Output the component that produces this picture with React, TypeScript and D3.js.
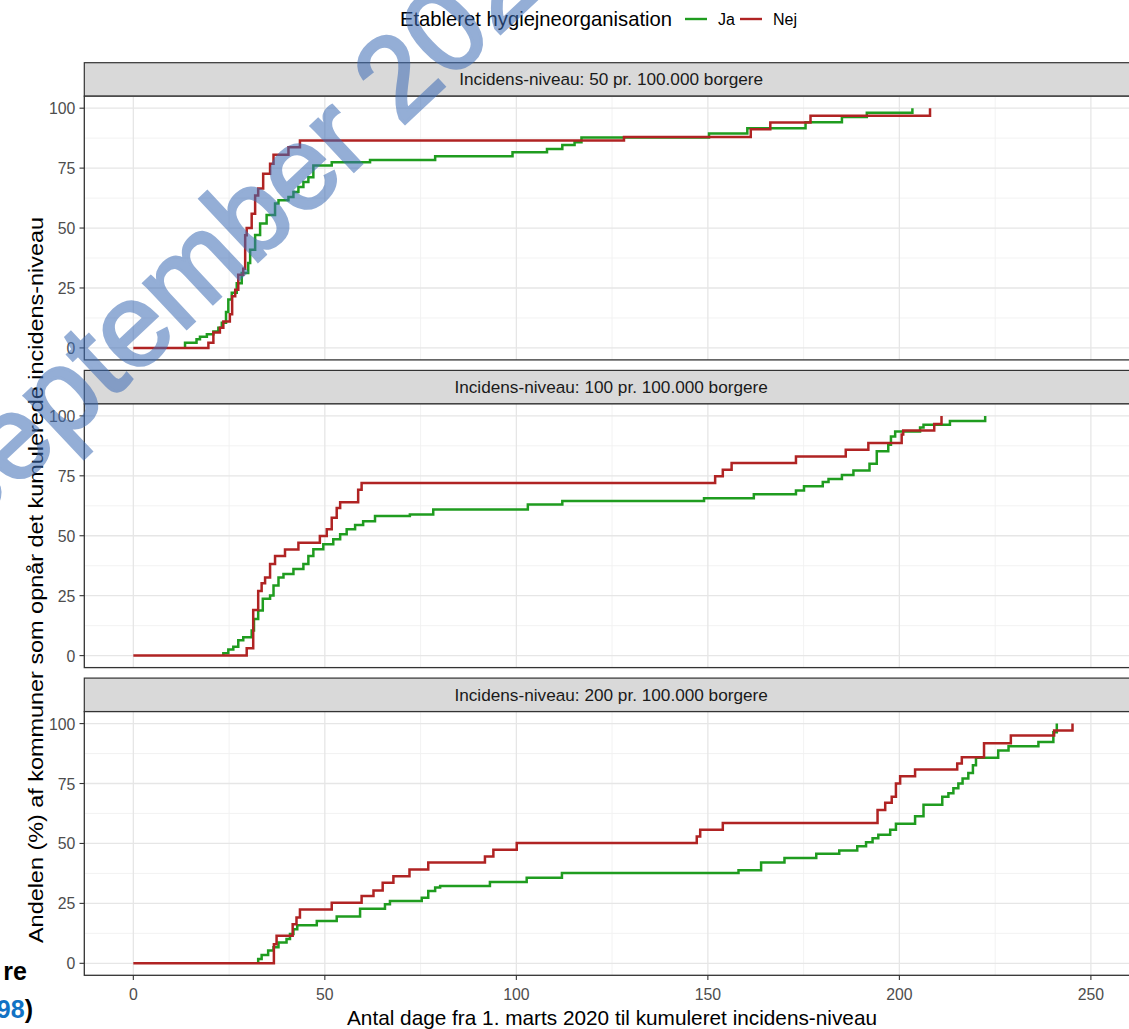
import React from 'react'
import * as d3 from 'd3'

type Pt = [number, number]

// strip labels for the three facets
const facetLabels = [
  'Incidens-niveau: 50 pr. 100.000 borgere',
  'Incidens-niveau: 100 pr. 100.000 borgere',
  'Incidens-niveau: 200 pr. 100.000 borgere',
]

const xTicks = [0, 50, 100, 150, 200, 250]
const xMinor = [25, 75, 125, 175, 225]
const yTicks = [0, 25, 50, 75, 100]
const yMinor = [12.5, 37.5, 62.5, 87.5]

const seriesNames = ['Ja', 'Nej']
const seriesColors = ['#1f9c1f', '#b02323']

// [dag, andel %] - trinkurver
const ja50: Pt[] = [
  [13.5, 0], [13.5, 2.2], [16.5, 3.6], [17.4, 4.7], [19.2, 5.7], [20.9, 6.8], [22.2, 8.4], [23.1, 10.5],
  [24.2, 15], [24.8, 20.2], [25.7, 23], [27, 27], [28.3, 31.2], [30, 35.4], [30.5, 40.9], [31.8, 47.1],
  [33.1, 51.9], [34.8, 55.4], [37, 60.2], [37.9, 61.6], [40.5, 63], [41.8, 65], [43.1, 67.1], [44.4, 69.2],
  [45.7, 71.2], [47, 76.1], [51.8, 77.5], [61.8, 78.4], [78.8, 80], [99, 81.6], [108, 83], [112, 84.6],
  [115.2, 85.8], [117, 87.8], [150.3, 89.4], [160.3, 91.6], [175.5, 94.1], [185, 96.3], [191.5, 98.1], [203.4, 100],
]
const nej50: Pt[] = [
  [0, 0], [19.6, 2.2], [20.9, 6.4], [22.6, 8.4], [23.5, 11], [25.2, 14], [25.8, 21.5], [26.6, 24.3],
  [27.4, 30.5], [28.7, 33], [29.2, 47], [29.6, 50], [30.9, 56], [31.8, 63.6], [32.6, 66.5], [33.9, 72.6],
  [35.7, 76.8], [36.6, 80.6], [40.5, 83.7], [43.5, 86.5], [128.1, 88], [161.2, 91.2], [166.3, 94],
  [176.8, 96.8], [208, 100],
]
const ja100: Pt[] = [
  [23.5, 0], [23.5, 1], [24.8, 2.6], [26.1, 3.7], [27.4, 6.4], [28.7, 7.7], [30.9, 10.5], [31.5, 15.3],
  [32.6, 18.8], [33.8, 23.7], [35.7, 25.1], [36.6, 29.2], [37.9, 32.6], [39.2, 34], [41.8, 36.1], [44.4, 38.2],
  [45.7, 41.6], [47, 44.4], [49.6, 46.5], [52.2, 48.5], [54, 50.6], [55.7, 52.7], [57.9, 54.5], [60, 56.1],
  [63.1, 58.2], [72.2, 58.9], [78.3, 61], [103, 63], [112, 64.5], [149, 65.6], [162, 67.3], [173, 68.9],
  [175.1, 70.7], [180, 72.4], [181.5, 73.7], [185, 75.3], [188, 77.2], [192.2, 80], [194.1, 85.2], [197.1, 88],
  [197.8, 91.4], [198.9, 93.5], [205.4, 95.2], [206.3, 96.3], [213.2, 97.9], [222.4, 100],
]
const nej100: Pt[] = [
  [0, 0], [29.6, 3.1], [31.3, 19], [32.6, 27], [33.5, 30.2], [34.4, 32.6], [35.7, 38.2], [37, 41.6],
  [39.6, 44.3], [43.1, 47.1], [48.7, 49.9], [50.5, 52.7], [51.8, 57.5], [53.1, 61.6], [54, 64], [58.7, 69.2],
  [59.6, 72], [151.9, 74.8], [153.9, 77.5], [156.2, 80.3], [173, 83.1], [186, 85.9], [191.9, 88.7],
  [200.6, 92.2], [201, 93.9], [209.1, 96.6], [211, 100],
]
const ja200: Pt[] = [
  [32.6, 0], [32.6, 1.8], [33.5, 3.5], [35.2, 5.3], [36.6, 6.7], [37.9, 8.7], [40, 10.1], [40.9, 12.2],
  [41.8, 14.2], [42.8, 15.9], [47.9, 17.7], [53.1, 19.5], [59.2, 22.8], [65.7, 24.6], [67, 26], [75.3, 27.4],
  [77, 30.2], [78.8, 31.6], [80.1, 32.3], [93.1, 33.9], [102.7, 35.7], [111.9, 37.7], [158, 38.8], [163.9, 42.1],
  [170, 43.9], [178.3, 45.7], [184.3, 47.1], [189, 48.8], [191.3, 50.5], [193, 52.2], [194.5, 53.6], [197.6, 55.7],
  [199.1, 58.2], [204.1, 61.3], [206.3, 66.1], [211.2, 69.5], [212.8, 70.9], [214.1, 73], [215.4, 75], [216.5, 77.1],
  [218, 79.4], [219.2, 82.6], [220, 85.8], [225.8, 88.8], [228.5, 90.5], [236.3, 92.3], [240.2, 96.4], [241.1, 100],
]
const nej200: Pt[] = [
  [0, 0], [36.7, 8], [37.4, 11.5], [41.6, 16.3], [42.6, 19.1], [43.5, 22.5], [51.8, 25.3], [59.6, 28.1],
  [62.7, 30.4], [65.1, 33.6], [67.9, 36.3], [72.1, 39.1], [77, 42.1], [91.8, 44.6], [94, 47.4], [100.1, 50.2],
  [147.1, 52.9], [148, 55.7], [153.9, 58.5], [194.3, 64], [196.3, 67], [198, 69.5], [199.1, 75], [200.2, 78],
  [204.1, 80.8], [215.1, 83.3], [216.3, 86], [222.1, 91.8], [229.1, 95], [240.4, 97.1], [245.2, 100],
]

const panelData: Pt[][][] = [
  [ja50, nej50],
  [ja100, nej100],
  [ja200, nej200],
]

const W = 1129
const H = 1029
const left = 84.3
const right = 1138
const firstStripTop = 62.7
const stripH = 33.5
const panelH = 263.7
const gap = 10.5
const font = 'Arial, "Liberation Sans", sans-serif'

export default function App() {
  const x = d3.scaleLinear().domain([-12.8, 262.3]).range([left, right])
  const line = d3.line<Pt>().x(d => x(d[0])).curve(d3.curveStepAfter)

  const panels = facetLabels.map((label, i) => {
    const stripTop = firstStripTop + i * (stripH + panelH + gap)
    const top = stripTop + stripH
    const bottom = top + panelH
    const y = d3.scaleLinear().domain([-5, 105]).range([bottom, top])
    line.y(d => y(d[1]))
    const paths = panelData[i].map(s => line(s) as string)
    return { label, stripTop, top, bottom, y, paths }
  })

  const last = panels[panels.length - 1]

  return (
    <svg width={W} height={H} style={{ position: 'absolute', left: 0, top: 0, background: '#fff' }}
      fontFamily={font}>
      <rect width={W} height={H} fill="#fff" />

      {/* legend */}
      <text x={400} y={26} fontSize={20.4} fill="#000" textLength={272} lengthAdjust="spacingAndGlyphs">
        Etableret hygiejneorganisation
      </text>
      {seriesNames.map((n, i) => (
        <g key={n} transform={`translate(${685 + i * 55},0)`}>
          <line x1={0} x2={22} y1={19} y2={19} stroke={seriesColors[i]} strokeWidth={2.4} />
          <text x={33} y={25} fontSize={16} fill="#000">{n}</text>
        </g>
      ))}

      {panels.map((p, i) => (
        <g key={i}>
          {/* strip */}
          <rect x={left} y={p.stripTop} width={right - left} height={stripH} fill="#d9d9d9" stroke="#333" strokeWidth={1.2} />
          <text x={(left + right) / 2} y={p.stripTop + stripH / 2 + 6} textAnchor="middle" fontSize={17.2} fill="#1a1a1a">
            {p.label}
          </text>
          <rect x={left} y={p.top} width={right - left} height={panelH} fill="#fff" />
          {/* grid */}
          {xMinor.map(v => (
            <line key={'xm' + v} x1={x(v)} x2={x(v)} y1={p.top} y2={p.bottom} stroke="#f0f0f0" strokeWidth={0.9} />
          ))}
          {yMinor.map(v => (
            <line key={'ym' + v} x1={left} x2={right} y1={p.y(v)} y2={p.y(v)} stroke="#f0f0f0" strokeWidth={0.9} />
          ))}
          {xTicks.map(v => (
            <line key={'xM' + v} x1={x(v)} x2={x(v)} y1={p.top} y2={p.bottom} stroke="#e6e6e6" strokeWidth={1.3} />
          ))}
          {yTicks.map(v => (
            <line key={'yM' + v} x1={left} x2={right} y1={p.y(v)} y2={p.y(v)} stroke="#e6e6e6" strokeWidth={1.3} />
          ))}
          {/* curves */}
          {p.paths.map((d, k) => (
            <path key={k} d={d} fill="none" stroke={seriesColors[k]} strokeWidth={2.5} />
          ))}
          <rect x={left} y={p.top} width={right - left} height={panelH} fill="none" stroke="#333" strokeWidth={1.3} />
          {/* y axis */}
          {yTicks.map(v => (
            <g key={'yt' + v}>
              <line x1={left - 4.8} x2={left} y1={p.y(v)} y2={p.y(v)} stroke="#333" strokeWidth={1.1} />
              <text transform={`translate(${left - 9},${p.y(v) + 6}) scale(0.92,1)`} textAnchor="end"
                fontSize={17.2} fill="#4d4d4d">{v}</text>
            </g>
          ))}
        </g>
      ))}

      {/* x axis on bottom panel */}
      {xTicks.map(v => (
        <g key={'xt' + v}>
          <line x1={x(v)} x2={x(v)} y1={last.bottom} y2={last.bottom + 4.8} stroke="#333" strokeWidth={1.1} />
          <text transform={`translate(${x(v)},${last.bottom + 25}) scale(0.92,1)`} textAnchor="middle"
            fontSize={17.2} fill="#4d4d4d">{v}</text>
        </g>
      ))}

      <text x={612} y={1025} textAnchor="middle" fontSize={20.8} fill="#000" textLength={530} lengthAdjust="spacingAndGlyphs">
        Antal dage fra 1. marts 2020 til kumuleret incidens-niveau
      </text>
      <text transform={`translate(43,580) rotate(-90)`} textAnchor="middle" fontSize={20.4} fill="#000"
        textLength={726} lengthAdjust="spacingAndGlyphs">
        Andelen (%) af kommuner som opnår det kumulerede incidens-niveau
      </text>

      {/* cut-off document text at left */}
      <text x={27} y={980} textAnchor="end" fontSize={25} fontWeight="bold" fill="#000">re</text>
      <text x={33} y={1018} textAnchor="end" fontSize={25} fontWeight="bold" fill="#000">
        <tspan fill="#1272c4">98</tspan>)
      </text>

      {/* watermark */}
      <text transform="translate(-44,545) rotate(-43.2)" fontSize={118} fill="#3d6cb5" stroke="#3d6cb5"
        strokeWidth={3} opacity={0.55} fontFamily={font}>
        September 2020
      </text>
    </svg>
  )
}
